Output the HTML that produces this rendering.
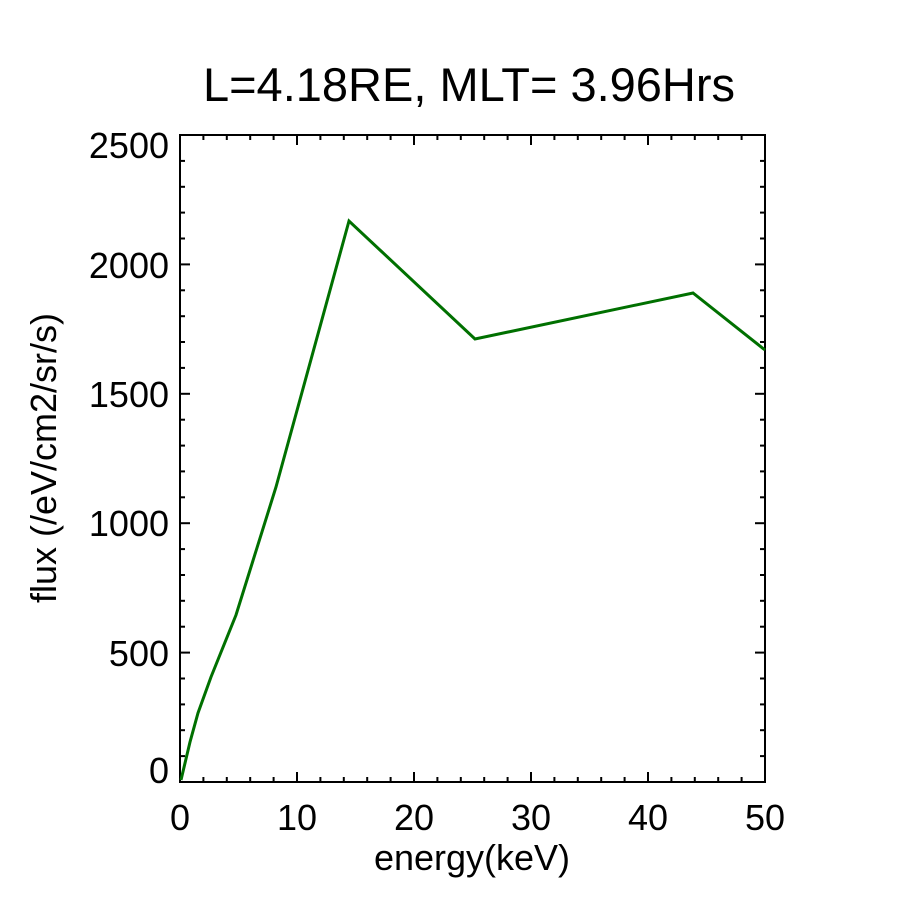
<!DOCTYPE html>
<html><head><style>body{margin:0;background:#fff}</style></head><body>
<svg width="900" height="900" xmlns="http://www.w3.org/2000/svg" font-family="Liberation Sans, sans-serif">
<rect width="900" height="900" fill="#fff"/>
<text x="469" y="101" font-size="47" text-anchor="middle">L=4.18RE, MLT= 3.96Hrs</text>
<rect x="180" y="135" width="585" height="647" fill="none" stroke="#000" stroke-width="2"/>
<g stroke="#000" stroke-width="2">
<line x1="180" y1="782" x2="180" y2="772"/><line x1="180" y1="135" x2="180" y2="145"/>
<line x1="203.4" y1="782" x2="203.4" y2="777"/><line x1="203.4" y1="135" x2="203.4" y2="140"/>
<line x1="226.8" y1="782" x2="226.8" y2="777"/><line x1="226.8" y1="135" x2="226.8" y2="140"/>
<line x1="250.2" y1="782" x2="250.2" y2="777"/><line x1="250.2" y1="135" x2="250.2" y2="140"/>
<line x1="273.6" y1="782" x2="273.6" y2="777"/><line x1="273.6" y1="135" x2="273.6" y2="140"/>
<line x1="297" y1="782" x2="297" y2="772"/><line x1="297" y1="135" x2="297" y2="145"/>
<line x1="320.4" y1="782" x2="320.4" y2="777"/><line x1="320.4" y1="135" x2="320.4" y2="140"/>
<line x1="343.8" y1="782" x2="343.8" y2="777"/><line x1="343.8" y1="135" x2="343.8" y2="140"/>
<line x1="367.2" y1="782" x2="367.2" y2="777"/><line x1="367.2" y1="135" x2="367.2" y2="140"/>
<line x1="390.6" y1="782" x2="390.6" y2="777"/><line x1="390.6" y1="135" x2="390.6" y2="140"/>
<line x1="414" y1="782" x2="414" y2="772"/><line x1="414" y1="135" x2="414" y2="145"/>
<line x1="437.4" y1="782" x2="437.4" y2="777"/><line x1="437.4" y1="135" x2="437.4" y2="140"/>
<line x1="460.8" y1="782" x2="460.8" y2="777"/><line x1="460.8" y1="135" x2="460.8" y2="140"/>
<line x1="484.2" y1="782" x2="484.2" y2="777"/><line x1="484.2" y1="135" x2="484.2" y2="140"/>
<line x1="507.6" y1="782" x2="507.6" y2="777"/><line x1="507.6" y1="135" x2="507.6" y2="140"/>
<line x1="531" y1="782" x2="531" y2="772"/><line x1="531" y1="135" x2="531" y2="145"/>
<line x1="554.4" y1="782" x2="554.4" y2="777"/><line x1="554.4" y1="135" x2="554.4" y2="140"/>
<line x1="577.8" y1="782" x2="577.8" y2="777"/><line x1="577.8" y1="135" x2="577.8" y2="140"/>
<line x1="601.2" y1="782" x2="601.2" y2="777"/><line x1="601.2" y1="135" x2="601.2" y2="140"/>
<line x1="624.6" y1="782" x2="624.6" y2="777"/><line x1="624.6" y1="135" x2="624.6" y2="140"/>
<line x1="648" y1="782" x2="648" y2="772"/><line x1="648" y1="135" x2="648" y2="145"/>
<line x1="671.4" y1="782" x2="671.4" y2="777"/><line x1="671.4" y1="135" x2="671.4" y2="140"/>
<line x1="694.8" y1="782" x2="694.8" y2="777"/><line x1="694.8" y1="135" x2="694.8" y2="140"/>
<line x1="718.2" y1="782" x2="718.2" y2="777"/><line x1="718.2" y1="135" x2="718.2" y2="140"/>
<line x1="741.6" y1="782" x2="741.6" y2="777"/><line x1="741.6" y1="135" x2="741.6" y2="140"/>
<line x1="765" y1="782" x2="765" y2="772"/><line x1="765" y1="135" x2="765" y2="145"/>

<line x1="180" y1="782" x2="190" y2="782"/><line x1="765" y1="782" x2="755" y2="782"/>
<line x1="180" y1="756.1" x2="185" y2="756.1"/><line x1="765" y1="756.1" x2="760" y2="756.1"/>
<line x1="180" y1="730.2" x2="185" y2="730.2"/><line x1="765" y1="730.2" x2="760" y2="730.2"/>
<line x1="180" y1="704.4" x2="185" y2="704.4"/><line x1="765" y1="704.4" x2="760" y2="704.4"/>
<line x1="180" y1="678.5" x2="185" y2="678.5"/><line x1="765" y1="678.5" x2="760" y2="678.5"/>
<line x1="180" y1="652.6" x2="190" y2="652.6"/><line x1="765" y1="652.6" x2="755" y2="652.6"/>
<line x1="180" y1="626.7" x2="185" y2="626.7"/><line x1="765" y1="626.7" x2="760" y2="626.7"/>
<line x1="180" y1="600.8" x2="185" y2="600.8"/><line x1="765" y1="600.8" x2="760" y2="600.8"/>
<line x1="180" y1="575" x2="185" y2="575"/><line x1="765" y1="575" x2="760" y2="575"/>
<line x1="180" y1="549.1" x2="185" y2="549.1"/><line x1="765" y1="549.1" x2="760" y2="549.1"/>
<line x1="180" y1="523.2" x2="190" y2="523.2"/><line x1="765" y1="523.2" x2="755" y2="523.2"/>
<line x1="180" y1="497.3" x2="185" y2="497.3"/><line x1="765" y1="497.3" x2="760" y2="497.3"/>
<line x1="180" y1="471.4" x2="185" y2="471.4"/><line x1="765" y1="471.4" x2="760" y2="471.4"/>
<line x1="180" y1="445.6" x2="185" y2="445.6"/><line x1="765" y1="445.6" x2="760" y2="445.6"/>
<line x1="180" y1="419.7" x2="185" y2="419.7"/><line x1="765" y1="419.7" x2="760" y2="419.7"/>
<line x1="180" y1="393.8" x2="190" y2="393.8"/><line x1="765" y1="393.8" x2="755" y2="393.8"/>
<line x1="180" y1="367.9" x2="185" y2="367.9"/><line x1="765" y1="367.9" x2="760" y2="367.9"/>
<line x1="180" y1="342" x2="185" y2="342"/><line x1="765" y1="342" x2="760" y2="342"/>
<line x1="180" y1="316.2" x2="185" y2="316.2"/><line x1="765" y1="316.2" x2="760" y2="316.2"/>
<line x1="180" y1="290.3" x2="185" y2="290.3"/><line x1="765" y1="290.3" x2="760" y2="290.3"/>
<line x1="180" y1="264.4" x2="190" y2="264.4"/><line x1="765" y1="264.4" x2="755" y2="264.4"/>
<line x1="180" y1="238.5" x2="185" y2="238.5"/><line x1="765" y1="238.5" x2="760" y2="238.5"/>
<line x1="180" y1="212.6" x2="185" y2="212.6"/><line x1="765" y1="212.6" x2="760" y2="212.6"/>
<line x1="180" y1="186.8" x2="185" y2="186.8"/><line x1="765" y1="186.8" x2="760" y2="186.8"/>
<line x1="180" y1="160.9" x2="185" y2="160.9"/><line x1="765" y1="160.9" x2="760" y2="160.9"/>
</g>
<g font-size="36" text-anchor="middle">
<text x="180" y="830">0</text><text x="297" y="830">10</text><text x="414" y="830">20</text><text x="531" y="830">30</text><text x="648" y="830">40</text><text x="765" y="830">50</text>
</g>
<g font-size="36" text-anchor="end">
<text x="169" y="783">0</text><text x="169" y="666">500</text><text x="169" y="536">1000</text><text x="169" y="407">1500</text><text x="169" y="278">2000</text><text x="169" y="158">2500</text>
</g>
<text x="472" y="870" font-size="36" text-anchor="middle">energy(keV)</text>
<text transform="translate(56,458) rotate(-90)" font-size="36" text-anchor="middle">flux (/eV/cm2/sr/s)</text>
<polyline fill="none" stroke="#007000" stroke-width="3" points="181,780 190,742 198,713 211,677 236,615 276,487 349,221 475,339 693,293 765,350"/>
</svg>
</body></html>
